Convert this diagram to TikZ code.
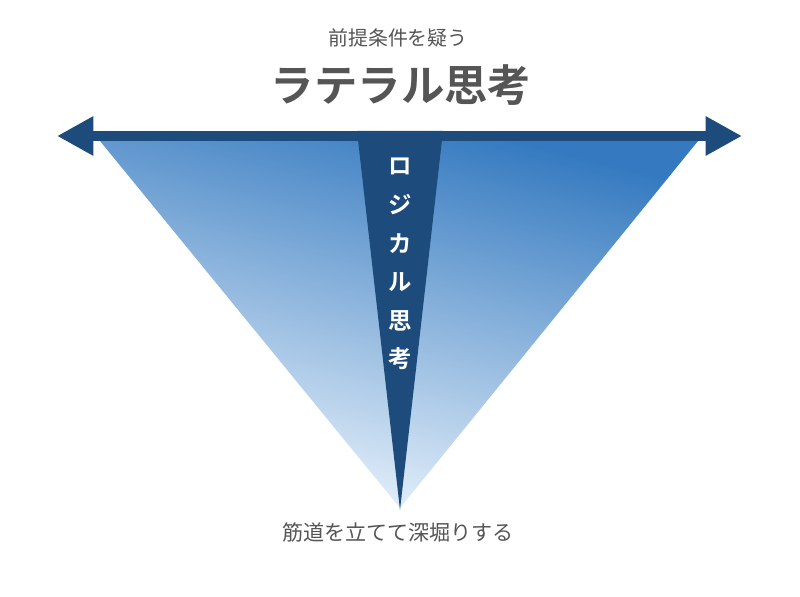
\documentclass[tikz,border=0pt]{standalone}
\usepackage{fontspec}
\setmainfont{Noto Sans CJK JP}[BoldFont={Noto Sans CJK JP Bold}]
\usetikzlibrary{arrows.meta}

\definecolor{navy}{HTML}{1D4B7B}
\definecolor{deepblue}{HTML}{357AC0}
\definecolor{midblue}{HTML}{93C1E7}
\definecolor{paleblue}{HTML}{EEF6FD}
\definecolor{textgray}{HTML}{555555}

\begin{document}
\begin{tikzpicture}[x=0.03cm,y=-0.03cm,
  caption/.style={text=textgray,inner sep=0pt},
  logic/.style={text=white,font=\bfseries\fontsize{20}{20}\selectfont,inner sep=0pt}]

\useasboundingbox (0,0) rectangle (800,597);

\def\top{141}
\def\apex{508}

% wide triangle
\shade[top color=deepblue,middle color=midblue,bottom color=paleblue,shading angle=-14]
  (100,\top)--(698,\top)--(400,\apex)--cycle;

% narrow triangle
\fill[navy] (357,131)--(443,131)--(400,510)--cycle;

% double arrow
\coordinate (L) at (57,136);
\coordinate (R) at (742,136);
\draw[navy,line width=8.5pt,{Triangle[length=31pt,width=31.5pt]}-{Triangle[length=31pt,width=31.5pt]}] (L)--(R);

\node[caption,font=\fontsize{17}{17}\selectfont] (premise) at (398,38) {前提条件を疑う};
\node[caption,font=\bfseries\fontsize{37}{37}\selectfont] (lateral) at (401,85) {ラテラル思考};

\foreach \c [count=\i] in {ロ,ジ,カ,ル,思,考}
  \node[logic] (lc\i) at (400,128+38.5*\i) {\c};

\node[caption,font=\fontsize{18}{18}\selectfont] (deep) at (398,532) {筋道を立てて深堀りする};

\end{tikzpicture}
\end{document}
